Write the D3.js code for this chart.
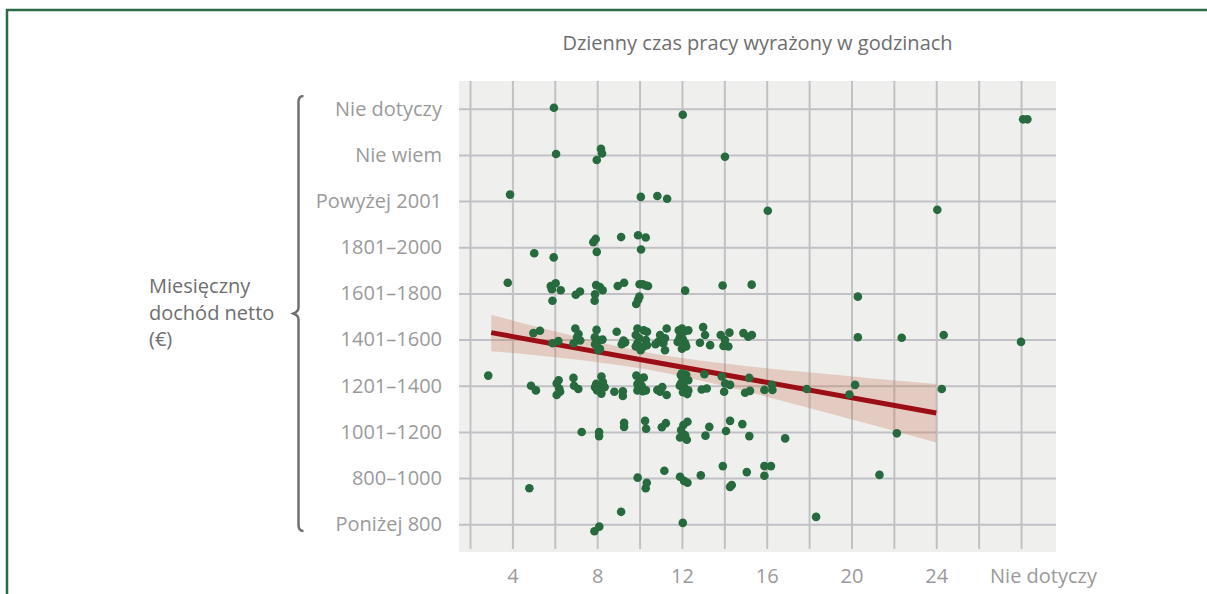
<!DOCTYPE html>
<html>
<head>
<meta charset="utf-8">
<script src="https://cdn.jsdelivr.net/npm/d3@7"></script>
<style>
  html, body { margin: 0; padding: 0; background: #fff; }
  svg { display: block; font-family: 'Open Sans', sans-serif; }
</style>
</head>
<body>
<div id="root"></div>
<script>
'use strict';

// income categories, bottom to top
const incomeLabels = ['Poniżej 800', '800–1000', '1001–1200', '1201–1400', '1401–1600',
                      '1601–1800', '1801–2000', 'Powyżej 2001', 'Nie wiem', 'Nie dotyczy'];

// hours axis (28 = "Nie dotyczy")
const hourTicks  = [4, 8, 12, 16, 20, 24, 28],
      hourLabels = ['4', '8', '12', '16', '20', '24', 'Nie dotyczy'],
      gridHours  = [2, 4, 6, 8, 10, 12, 14, 16, 18, 20, 22, 24, 26, 28];

// points per income row: [hours, jittered category position]
const rowTop = [[5.96, 9.02], [12.04, 8.87], [28.1, 8.77], [28.3, 8.77],
                [6.06, 8.02], [8.18, 8.13], [8.23, 8.03], [7.98, 7.89], [14.03, 7.96]];

const rowAbove2001 = [[3.89, 7.14], [10.06, 7.09], [10.84, 7.11], [11.30, 7.05],
                      [16.05, 6.79], [24.05, 6.81]];

const row1801 = [[5.03, 5.87], [5.95, 5.78], [7.82, 6.11], [7.93, 6.18], [7.98, 5.90],
                 [9.13, 6.22], [9.93, 6.26], [10.29, 6.21], [10.07, 5.95]];

const row1601 = [[3.78, 5.23], [5.81, 5.16], [5.86, 5.09], [6.04, 5.22], [6.28, 5.07],
                 [5.89, 4.84], [6.99, 4.97], [7.19, 5.04], [7.95, 5.18], [8.13, 5.14],
                 [8.26, 5.07], [7.90, 4.98], [7.88, 4.84], [8.97, 5.16], [9.27, 5.23],
                 [10.0, 5.2], [10.15, 5.2], [10.3, 5.17], [10.4, 5.16], [9.99, 4.93],
                 [9.93, 4.86], [9.84, 4.77], [12.15, 5.06], [13.92, 5.17], [15.29, 5.19],
                 [20.30, 4.93]];

const row1401 = [[4.99, 4.14], [5.30, 4.19], [5.90, 3.92], [6.17, 3.97], [6.97, 4.24],
                 [7.12, 4.12], [7.05, 4.05], [6.89, 3.92], [7.2, 3.98], [7.97, 4.21],
                 [7.89, 4.05], [8.05, 3.98], [7.97, 3.88], [8.13, 3.8], [8.05, 3.77],
                 [7.9, 3.9], [8.25, 4.0], [8.92, 4.17], [9.24, 3.98], [9.16, 3.9],
                 [9.32, 3.94], [9.9, 4.24], [10.2, 4.2], [10.35, 4.17], [9.82, 4.1],
                 [9.98, 4.03], [10.3, 3.99], [9.9, 3.92], [10.2, 3.85], [10.05, 3.77],
                 [10.35, 3.88], [9.82, 3.85], [10.97, 4.1], [11.2, 4.03], [10.88, 3.95],
                 [11.28, 4.24], [11.12, 3.92], [11.2, 3.77], [10.75, 3.9], [11.85, 4.2],
                 [12.0, 4.24], [12.1, 4.17], [11.9, 4.05], [12.05, 4.0], [12.15, 3.92],
                 [11.8, 3.95], [12.2, 3.85], [12.3, 4.2], [12.0, 3.8], [12.85, 3.93],
                 [13.09, 4.1], [13.33, 3.88], [13.0, 4.27], [13.83, 4.1], [14.24, 4.15],
                 [14.03, 3.99], [14.19, 3.85], [13.96, 3.86], [14.9, 4.14], [15.13, 4.06],
                 [15.3, 4.1], [20.3, 4.05], [22.37, 4.04], [24.35, 4.10], [28.0, 3.95]];

const row1201 = [[2.86, 3.22], [4.88, 3.0], [5.11, 2.90], [6.09, 3.05], [6.21, 2.94],
                 [6.09, 2.80], [6.25, 2.87], [6.18, 3.12], [6.88, 3.17], [6.91, 3.0],
                 [7.11, 2.93], [7.95, 3.04], [8.2, 3.2], [8.27, 3.08], [8.0, 2.9],
                 [8.2, 2.83], [8.35, 2.97], [7.9, 2.97], [8.05, 2.95], [8.81, 2.87],
                 [9.21, 2.88], [9.21, 2.78], [9.85, 3.22], [10.05, 3.15], [10.2, 3.18],
                 [9.9, 3.04], [10.1, 3.0], [10.3, 2.9], [9.9, 2.9], [10.15, 2.88],
                 [10.84, 2.91], [11.07, 2.97], [11.28, 2.8], [10.97, 2.87], [11.95, 3.23],
                 [12.2, 3.24], [12.05, 3.14], [12.3, 3.12], [11.9, 3.0], [12.1, 2.98],
                 [12.3, 2.9], [12.05, 2.86], [12.25, 2.82], [11.95, 3.05], [12.0, 3.27],
                 [13.06, 3.25], [12.93, 2.92], [13.17, 2.94], [13.88, 3.2], [14.04, 3.05],
                 [14.27, 3.02], [13.99, 2.87], [15.17, 3.17], [14.98, 2.85], [15.21, 2.89],
                 [15.89, 2.91], [16.24, 3.02], [16.27, 2.91], [17.89, 2.93], [20.17, 3.02],
                 [19.90, 2.81], [24.26, 2.93]];

const row1001 = [[7.27, 2.0], [8.09, 2.0], [8.09, 1.91], [9.27, 2.2], [9.27, 2.11],
                 [10.26, 2.24], [10.31, 2.07], [11.05, 2.10], [11.24, 2.19], [12.07, 2.15],
                 [12.26, 2.22], [11.96, 2.04], [12.15, 1.93], [11.91, 1.88], [12.23, 1.83],
                 [13.11, 1.92], [13.29, 2.11], [14.08, 2.02], [14.27, 2.24], [14.85, 2.17],
                 [15.18, 1.91], [16.87, 1.86], [22.14, 1.97]];

const row800 = [[4.80, 0.78], [9.91, 1.01], [10.34, 0.90], [10.29, 0.78], [11.17, 1.16],
                [11.91, 1.03], [12.10, 0.94], [12.26, 0.90], [12.89, 1.06], [13.93, 1.26],
                [14.27, 0.81], [14.35, 0.85], [15.06, 1.13], [15.89, 1.26], [16.2, 1.26],
                [15.89, 1.05], [21.32, 1.07], [9.13, 0.27]];

const rowBelow800 = [[7.87, -0.15], [8.10, -0.05], [12.04, 0.03], [18.33, 0.16]];

// fitted line and its confidence band
const fitHours = [3, 24],
      fitValues = [4.15, 2.41];

const bandHours = [3, 6, 9, 10.5, 12, 15, 18, 21, 24],
      bandUpper = [4.54, 4.18, 3.85, 3.71, 3.60, 3.43, 3.29, 3.16, 3.04],
      bandLower = [3.75, 3.62, 3.45, 3.34, 3.20, 2.88, 2.52, 2.15, 1.77];

const titleText = 'Dzienny czas pracy wyrażony w godzinach',
      yTitle    = ['Miesięczny', 'dochód netto', '(€)'];

function draw() {
  const w = 1207,
        h = 594,
        plot = { left: 459, right: 1056, top: 81, bottom: 552 },

        svg = d3.select('#root')
                .append('svg')
                .attr('width', w)
                .attr('height', h),

        xScale = d3.scaleLinear()
                   .domain([1.48, 29.65])
                   .range([plot.left, plot.right]),

        yScale = d3.scaleLinear()
                   .domain([-0.6, 9.6])
                   .range([plot.bottom, plot.top]);

  // outer frame (left + top)
  svg.append('path')
     .attr('d', `M7,${h} V10 H${w}`)
     .attr('fill', 'none')
     .attr('stroke', '#2b6a45')
     .attr('stroke-width', 2.5);

  // plot background
  svg.append('rect')
     .attr('x', plot.left)
     .attr('y', plot.top)
     .attr('width', plot.right - plot.left)
     .attr('height', plot.bottom - plot.top)
     .attr('fill', '#eff0ee');

  // grid
  const gridX = svg.append('g')
                   .attr('transform', `translate(0, ${plot.bottom - 3})`)
                   .call(d3.axisBottom(xScale)
                           .tickValues(gridHours)
                           .tickSize(-(plot.bottom - 3 - plot.top))
                           .tickFormat(''));
  const gridY = svg.append('g')
                   .attr('transform', `translate(${plot.left}, 0)`)
                   .call(d3.axisLeft(yScale)
                           .tickValues(d3.range(incomeLabels.length))
                           .tickSize(-(plot.right - plot.left))
                           .tickFormat(''));
  [gridX, gridY].forEach((g) => {
    g.select('.domain').remove();
    g.selectAll('line')
     .attr('stroke', '#c1c1c5')
     .attr('stroke-width', 2);
  });

  // confidence band
  const band = bandHours.map((d, i) => ({ h: d, lo: bandLower[i], hi: bandUpper[i] }));
  svg.append('path')
     .datum(band)
     .attr('d', d3.area()
                  .x((d) => xScale(d.h))
                  .y0((d) => yScale(d.lo))
                  .y1((d) => yScale(d.hi))
                  .curve(d3.curveMonotoneX))
     .attr('fill', 'rgb(200, 118, 88)')
     .attr('fill-opacity', 0.3);

  // fitted line
  svg.append('path')
     .datum(fitHours.map((d, i) => [d, fitValues[i]]))
     .attr('d', d3.line()
                  .x((d) => xScale(d[0]))
                  .y((d) => yScale(d[1])))
     .attr('fill', 'none')
     .attr('stroke', '#9b0e16')
     .attr('stroke-width', 5);

  // points
  const points = [].concat(rowTop, rowAbove2001, row1801, row1601, row1401,
                           row1201, row1001, row800, rowBelow800);
  svg.append('g')
     .selectAll('circle')
     .data(points)
     .enter()
     .append('circle')
     .attr('cx', (d) => xScale(d[0]))
     .attr('cy', (d) => yScale(d[1]))
     .attr('r', 4.3)
     .attr('fill', '#276a3e');

  // tick labels
  const yAxis = svg.append('g')
                   .attr('transform', `translate(${plot.left}, 0)`)
                   .call(d3.axisLeft(yScale)
                           .tickValues(d3.range(incomeLabels.length))
                           .tickFormat((d) => incomeLabels[d])
                           .tickSize(0)
                           .tickPadding(17));
  const xAxis = svg.append('g')
                   .attr('transform', `translate(0, ${plot.bottom})`)
                   .call(d3.axisBottom(xScale)
                           .tickValues(hourTicks)
                           .tickFormat((d, i) => hourLabels[i])
                           .tickSize(0)
                           .tickPadding(17));
  [xAxis, yAxis].forEach((g) => {
    g.select('.domain').remove();
    g.selectAll('text')
     .attr('font-family', "'Open Sans', sans-serif")
     .attr('font-size', 20)
     .attr('fill', '#9a9a9a');
  });
  xAxis.selectAll('text')
       .filter((d) => d === 28)
       .attr('dx', 22);

  // title
  svg.append('text')
     .attr('x', (plot.left + plot.right) / 2)
     .attr('y', 50)
     .attr('text-anchor', 'middle')
     .attr('font-size', 20)
     .attr('fill', '#6e6e6e')
     .text(titleText);

  // y title
  svg.append('text')
     .attr('font-size', 20)
     .attr('fill', '#6e6e6e')
     .selectAll('tspan')
     .data(yTitle)
     .enter()
     .append('tspan')
     .attr('x', 149)
     .attr('y', (d, i) => 293 + i * 26.5)
     .text((d) => d);

  // brace
  const bx = 298.5, top = 96, bot = 531, mid = (top + bot) / 2;
  svg.append('path')
     .attr('d', `M${bx + 5},${top} Q${bx},${top} ${bx},${top + 6}`
              + ` V${mid - 6} Q${bx},${mid - 2} ${bx - 5},${mid}`
              + ` Q${bx},${mid + 2} ${bx},${mid + 6}`
              + ` V${bot - 6} Q${bx},${bot} ${bx + 5},${bot}`)
     .attr('fill', 'none')
     .attr('stroke', '#707070')
     .attr('stroke-width', 2.5);
}

draw();
</script>
</body>
</html>
